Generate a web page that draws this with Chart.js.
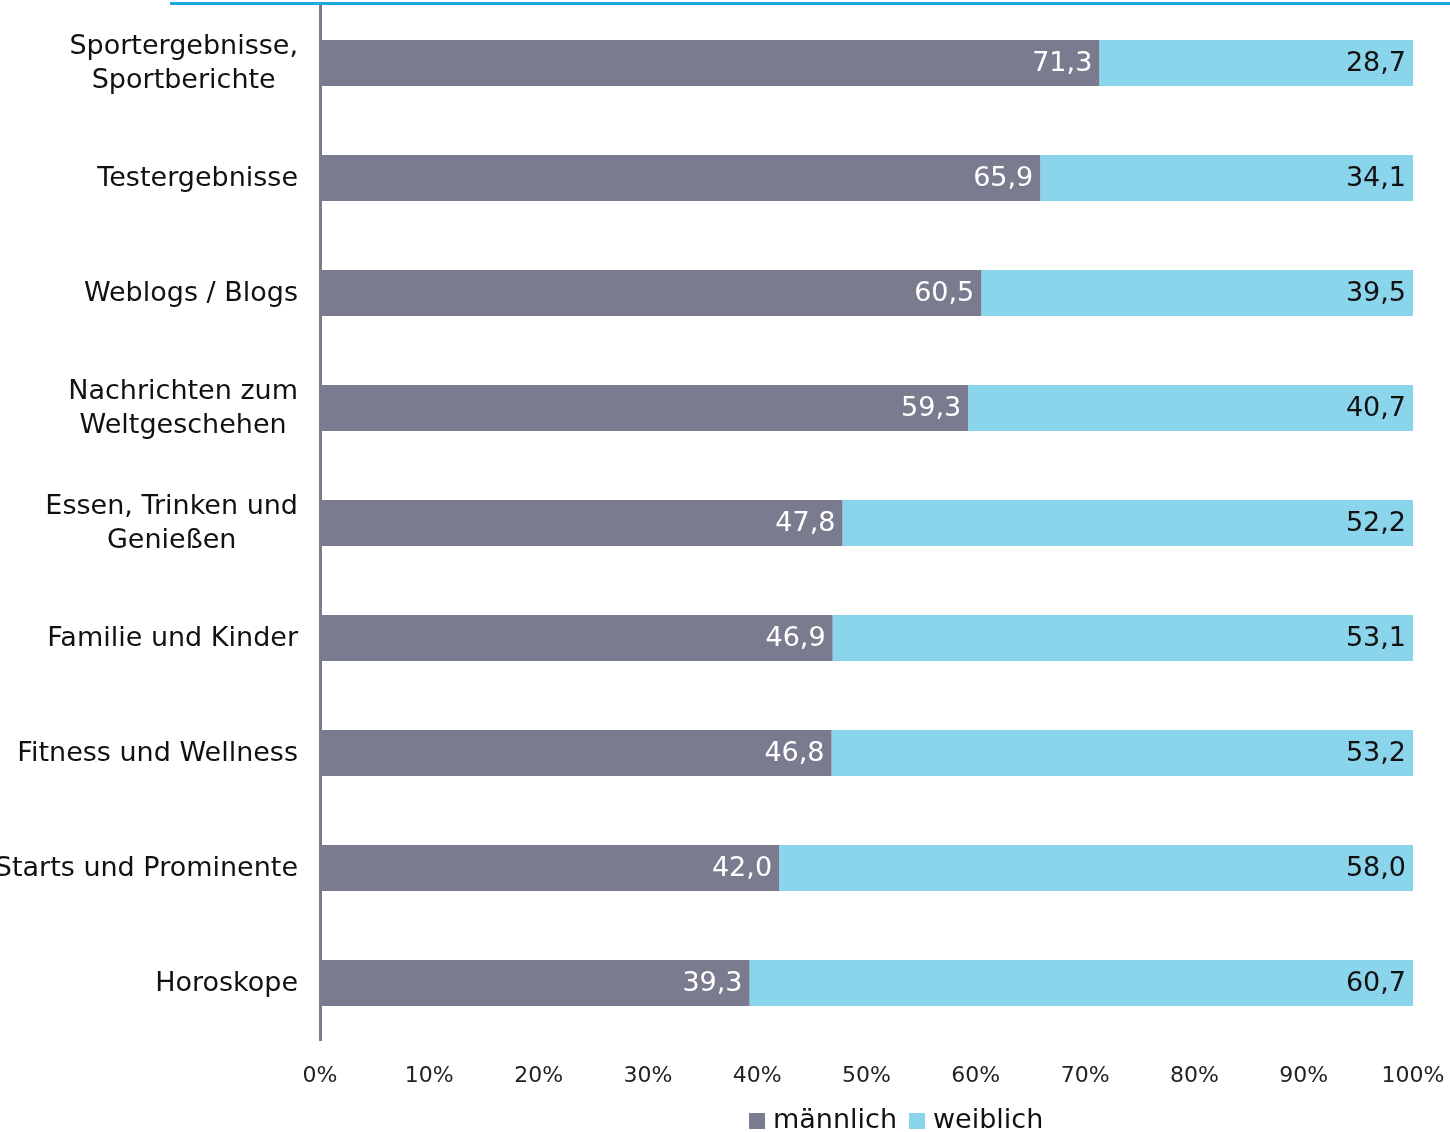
<!DOCTYPE html>
<html>
<head>
<meta charset="utf-8">
<script src="https://cdn.jsdelivr.net/npm/chart.js@4/dist/chart.umd.min.js"></script>
<style>
  body { margin: 0; background: #fff; }
  #wrap { position: relative; width: 1450px; height: 1132px; overflow: hidden; }
  #topline { position: absolute; left: 170px; top: 2px; width: 1280px; height: 3px; background: #1ba9de; }
  #legend { position: absolute; left: 749px; top: 1103px; font-family: "DejaVu Sans", sans-serif; font-size: 27px; color: #111; white-space: nowrap; }
  #legend span.box { display: inline-block; width: 16px; height: 16px; margin-right: 8px; vertical-align: -1px; }
  #legend span.item { margin-right: 12px; }
</style>
</head>
<body>
<div id="wrap">
  <canvas id="myChart" width="1450" height="1132"></canvas>
  <div id="topline"></div>
  <div id="legend"></div>
</div>
<script>
// Daten
var kategorien = [
  ['Sportergebnisse,', 'Sportberichte'],
  'Testergebnisse',
  'Weblogs / Blogs',
  ['Nachrichten zum', 'Weltgeschehen'],
  ['Essen, Trinken und', 'Genießen'],
  'Familie und Kinder',
  'Fitness und Wellness',
  'Starts und Prominente',
  'Horoskope'
];
var maennlich = [71.3, 65.9, 60.5, 59.3, 47.8, 46.9, 46.8, 42.0, 39.3];
var weiblich = [28.7, 34.1, 39.5, 40.7, 52.2, 53.1, 53.2, 58.0, 60.7];
var xTicks = [0, 10, 20, 30, 40, 50, 60, 70, 80, 90, 100];

var grau = '#7b7b90';
var hellblau = '#8ad5ec';
var schrift = '"DejaVu Sans", sans-serif';

// Kategorie-Beschriftungen: Block rechtsbündig, Zeilen zentriert
var yLabels = {
  id: 'yLabels',
  afterDraw: (chart) => {
    var ctx = chart.ctx;
    var yScale = chart.scales.y;
    ctx.save();
    ctx.font = '27px ' + schrift;
    ctx.fillStyle = '#111';
    ctx.textAlign = 'center';
    ctx.textBaseline = 'middle';
    var rechts = 298;
    var zeilenHoehe = 34;
    kategorien.forEach((lab, i) => {
      var zeilen = Array.isArray(lab) ? lab : [lab];
      var breit = 0;
      zeilen.forEach((z) => { breit = Math.max(breit, ctx.measureText(z).width); });
      var mitteX = rechts - breit / 2;
      var mitteY = yScale.getPixelForValue(i) + 1;
      var startY = mitteY - (zeilen.length - 1) * zeilenHoehe / 2;
      zeilen.forEach((z, k) => {
        ctx.fillText(z, mitteX, startY + k * zeilenHoehe);
      });
    });
    ctx.restore();
  }
};

// Werte in den Balken
var werteLabels = {
  id: 'werteLabels',
  afterDatasetsDraw: (chart) => {
    var ctx = chart.ctx;
    ctx.save();
    ctx.font = '27px ' + schrift;
    ctx.textAlign = 'right';
    ctx.textBaseline = 'middle';
    chart.data.datasets.forEach((ds, d) => {
      var meta = chart.getDatasetMeta(d);
      ctx.fillStyle = d === 0 ? '#ffffff' : '#111111';
      meta.data.forEach((bar, i) => {
        var txt = ds.data[i].toFixed(1).replace('.', ',');
        ctx.fillText(txt, bar.x - 7, bar.y + 1);
      });
    });
    ctx.restore();
  }
};

var ctx = document.getElementById('myChart').getContext('2d');
var chart = new Chart(ctx, {
  type: 'bar',
  data: {
    labels: kategorien,
    datasets: [{
      label: 'männlich',
      data: maennlich,
      backgroundColor: grau,
      barPercentage: 0.4,
      categoryPercentage: 1
    }, {
      label: 'weiblich',
      data: weiblich,
      backgroundColor: hellblau,
      barPercentage: 0.4,
      categoryPercentage: 1
    }]
  },
  options: {
    indexAxis: 'y',
    responsive: false,
    animation: false,
    devicePixelRatio: 1,
    layout: { padding: { top: 5.5, right: 37, left: 0, bottom: 0 } },
    plugins: {
      legend: { display: false },
      tooltip: { enabled: false }
    },
    scales: {
      x: {
        stacked: true,
        min: 0,
        max: 100,
        grid: { display: false },
        border: { display: false },
        afterFit: (s) => {
          s.height = 91.5;
          s.paddingLeft = 0;
          s.paddingRight = 0;
        },
        afterBuildTicks: (s) => { s.ticks = xTicks.map((v) => ({ value: v })); },
        ticks: {
          padding: 15,
          color: '#222',
          font: { family: schrift, size: 22 },
          maxRotation: 0,
          callback: (v) => v + '%'
        }
      },
      y: {
        stacked: true,
        grid: { display: false },
        border: { display: true, color: grau, width: 3 },
        ticks: { display: false },
        afterFit: (s) => { s.width = 320; }
      }
    }
  },
  plugins: [yLabels, werteLabels]
});

// Legende
var legende = document.getElementById('legend');
chart.data.datasets.forEach((ds) => {
  var item = document.createElement('span');
  item.className = 'item';
  var box = document.createElement('span');
  box.className = 'box';
  box.style.background = ds.backgroundColor;
  item.appendChild(box);
  item.appendChild(document.createTextNode(ds.label));
  legende.appendChild(item);
});
</script>
</body>
</html>
